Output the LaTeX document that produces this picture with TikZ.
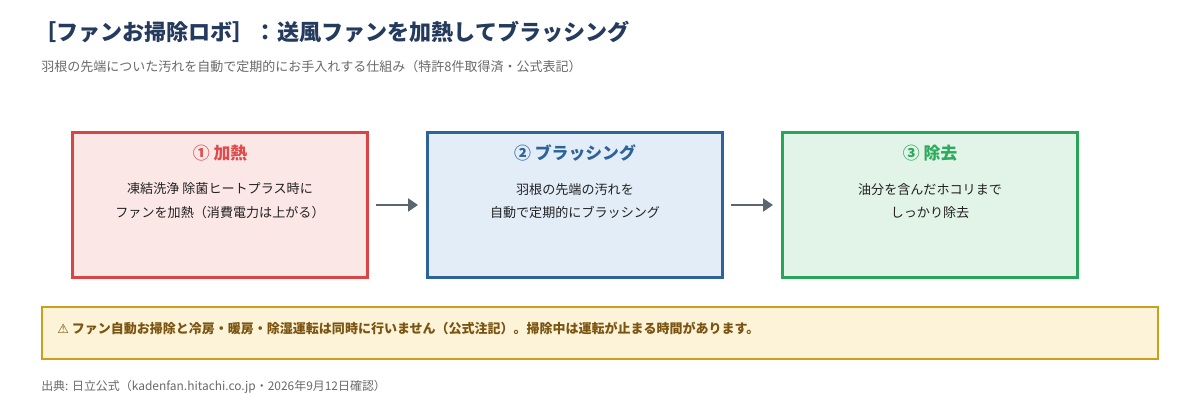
\documentclass[tikz,border=0pt]{standalone}
\usepackage{fontspec}
\setmainfont{Noto Sans CJK JP}
\newfontfamily\symfont{DejaVu Sans}
\usepackage{xcolor}
\usetikzlibrary{arrows.meta, positioning, calc}
\definecolor{titlenavy}{RGB}{36,59,94}
\definecolor{subgray}{RGB}{105,105,105}
\definecolor{bodytext}{RGB}{34,34,34}
\definecolor{heatborder}{RGB}{217,68,68}
\definecolor{heatfill}{RGB}{252,231,231}
\definecolor{heattitle}{RGB}{224,74,74}
\definecolor{brushborder}{RGB}{45,99,153}
\definecolor{brushfill}{RGB}{227,237,248}
\definecolor{brushtitle}{RGB}{45,99,153}
\definecolor{removeborder}{RGB}{39,165,89}
\definecolor{removefill}{RGB}{226,243,232}
\definecolor{removetitle}{RGB}{46,170,92}
\definecolor{arrowgray}{RGB}{91,102,112}
\definecolor{notefill}{RGB}{253,243,217}
\definecolor{noteborder}{RGB}{201,160,30}
\definecolor{notetext}{RGB}{122,84,16}

\begin{document}
\begin{tikzpicture}[
    stepbox/.style={rectangle, draw=#1border, fill=#1fill, line width=2.2pt,
                    minimum width=7.37cm, minimum height=3.62cm},
    steptitle/.style={font=\fontsize{12}{14}\selectfont\bfseries, text=#1title, inner sep=0pt},
    stepbody/.style={font=\fontsize{9.3}{17}\selectfont, text=bodytext, align=center, inner sep=0pt},
    arrow/.style={-{Triangle[length=7pt, width=9pt]}, line width=2.1pt, color=arrowgray,
                  shorten <=0.175cm, shorten >=0.2cm}
]
\useasboundingbox (0,0) rectangle (30,10);

% heading
\node[anchor=west, inner sep=0pt, text=titlenavy, font=\fontsize{15.7}{18}\selectfont\bfseries]
    (title) at (0.85,9.2) {［ファンお掃除ロボ］：送風ファンを加熱してブラッシング};
\node[anchor=west, inner sep=0pt, text=subgray, font=\fontsize{9.25}{11}\selectfont]
    (subtitle) at (1.025,8.325) {羽根の先端についた汚れを自動で定期的にお手入れする仕組み（特許8件取得済・公式表記）};

% three steps
\node[stepbox=heat] (heat) at (5.5,4.875) {};
\node[stepbox=brush] (brush) at (14.375,4.875) {};
\node[stepbox=remove] (remove) at (23.25,4.875) {};

\node[steptitle=heat] (heatlabel) at ($(heat.north)+(0,-0.55)$) {① 加熱};
\node[stepbody] (heattext) at ($(heat.north)+(0,-1.75)$) {凍結洗浄 除菌ヒートプラス時に\\ファンを加熱（消費電力は上がる）};
\node[steptitle=brush] (brushlabel) at ($(brush.north)+(0,-0.55)$) {② ブラッシング};
\node[stepbody] (brushtext) at ($(brush.north)+(0,-1.75)$) {羽根の先端の汚れを\\自動で定期的にブラッシング};
\node[steptitle=remove] (removelabel) at ($(remove.north)+(0,-0.55)$) {③ 除去};
\node[stepbody] (removetext) at ($(remove.north)+(0,-1.75)$) {油分を含んだホコリまで\\しっかり除去};

\draw[arrow] (heat.east) -- (brush.west);
\draw[arrow] (brush.east) -- (remove.west);

% caution + source
\node[rectangle, draw=noteborder, fill=notefill, line width=1.4pt,
      minimum width=27.9cm, minimum height=1.3cm] (note) at (15,1.675) {};
\node[anchor=west, inner sep=0pt, text=notetext, font=\fontsize{9.25}{11}\selectfont\bfseries]
    (notetext) at (1.425,1.8) {{\symfont\mdseries ⚠} ファン自動お掃除と冷房・暖房・除湿運転は同時に行いません（公式注記）。掃除中は運転が止まる時間があります。};
\node[anchor=west, inner sep=0pt, text=subgray, font=\fontsize{8.5}{10}\selectfont]
    (source) at (1.025,0.325) {出典: 日立公式（kadenfan.hitachi.co.jp・2026年9月12日確認）};
\end{tikzpicture}
\end{document}
